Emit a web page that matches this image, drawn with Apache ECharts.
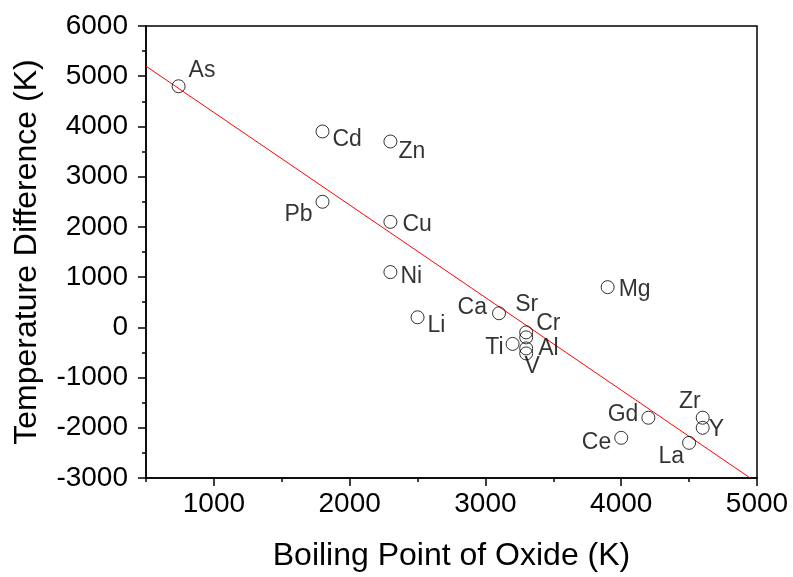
<!DOCTYPE html>
<html>
<head>
<meta charset="utf-8">
<script src="https://cdn.jsdelivr.net/npm/echarts@6/dist/echarts.min.js"></script>
<style>
  html, body { margin: 0; padding: 0; background: #fff; }
  #chart { width: 793px; height: 577px; }
</style>
</head>
<body>
<div id="chart"></div>
<script>
// ---- data ----
const elements      = ['As', 'Cd', 'Zn', 'Pb', 'Cu', 'Ni', 'Li', 'Ca', 'Sr', 'Cr', 'Ti', 'Al', 'V', 'Mg', 'Gd', 'Ce', 'La', 'Zr', 'Y'];
const boilingPoints = [740, 1800, 2300, 1800, 2300, 2300, 2500, 3100, 3300, 3300, 3200, 3300, 3300, 3900, 4200, 4000, 4500, 4600, 4600];
const tempDiffs     = [4800, 3900, 3700, 2500, 2100, 1100, 200, 280, -100, -200, -330, -420, -520, 800, -1800, -2200, -2300, -1800, -2000];
const fitX = [500, 4950];
const fitY = [5200, -3000];
const xMajorTicks = [1000, 2000, 3000, 4000, 5000];
const xMinorTicks = [500, 1500, 2500, 3500, 4500];
const xTitle = 'Boiling Point of Oxide (K)';
const yTitle = 'Temperature Difference (K)';

// ---- label placement (style only): [align, dx, dy] relative to the marker centre ----
const labelPlacement = {
  As: ['left', 10, -16], Cd: ['left', 10, 8], Zn: ['left', 8, 10], Pb: ['right', -10, 13],
  Cu: ['left', 12, 3], Ni: ['left', 10, 5], Li: ['left', 10, 8], Ca: ['right', -12, -6],
  Sr: ['left', -11, -28], Cr: ['left', 10, -14], Ti: ['right', -9, 4], Al: ['left', 12, 0],
  V: ['center', 6, 13], Mg: ['left', 11, 3], Gd: ['right', -10, -3], Ce: ['right', -10, 5],
  La: ['right', -5, 14], Zr: ['right', -2, -16], Y: ['left', 6, 2]
};

const FONT = 'Liberation Sans';
const plain = v => String(v);
const scatterData = elements.map((name, i) => {
  const p = labelPlacement[name];
  return {
    name: name,
    value: [boilingPoints[i], tempDiffs[i]],
    label: { align: p[0], offset: [p[1], p[2]] }
  };
});
const fitData = fitX.map((x, i) => [x, fitY[i]]);

const chart = echarts.init(document.getElementById('chart'), null, { renderer: 'canvas' });
chart.setOption({
  animation: false,
  backgroundColor: '#ffffff',
  grid: { left: 146, right: 36, top: 26, bottom: 97, show: true, borderColor: '#000', borderWidth: 1.5, backgroundColor: 'transparent' },
  xAxis: [
    {
      type: 'value', min: 500, max: 5000,
      name: xTitle, nameLocation: 'middle', nameGap: 62,
      nameTextStyle: { fontFamily: FONT, fontSize: 32, color: '#000' },
      axisLine: { show: true, onZero: false, lineStyle: { color: '#000', width: 1.5 } },
      axisTick: { show: true, inside: false, length: 8, customValues: xMajorTicks, lineStyle: { color: '#000', width: 1.5 } },
      axisLabel: { show: true, customValues: xMajorTicks, formatter: plain, margin: 12, fontFamily: FONT, fontSize: 28, color: '#000' },
      splitLine: { show: false }
    },
    {
      type: 'value', min: 500, max: 5000, position: 'bottom',
      axisLine: { show: false, onZero: false },
      axisTick: { show: true, inside: false, length: 4, customValues: xMinorTicks, lineStyle: { color: '#000', width: 1.5 } },
      axisLabel: { show: false },
      splitLine: { show: false }
    }
  ],
  yAxis: {
    type: 'value', min: -3000, max: 6000, interval: 1000,
    name: yTitle, nameLocation: 'middle', nameGap: 103, nameRotate: 90,
    nameTextStyle: { fontFamily: FONT, fontSize: 32, color: '#000' },
    axisLine: { show: true, onZero: false, lineStyle: { color: '#000', width: 1.5 } },
    axisTick: { show: true, inside: false, length: 8, lineStyle: { color: '#000', width: 1.5 } },
    minorTick: { show: true, splitNumber: 2, length: 4, lineStyle: { color: '#000', width: 1.5 } },
    axisLabel: { margin: 18, formatter: plain, fontFamily: FONT, fontSize: 28, color: '#000' },
    splitLine: { show: false },
    minorSplitLine: { show: false }
  },
  series: [
    {
      type: 'line', xAxisIndex: 0, data: fitData,
      showSymbol: false, symbol: 'none', clip: true,
      lineStyle: { color: '#ff0000', width: 1 },
      z: 2
    },
    {
      type: 'scatter', xAxisIndex: 0, data: scatterData,
      symbol: 'circle', symbolSize: 13,
      itemStyle: { color: 'rgba(255,255,255,0)', borderColor: '#000', borderWidth: 1 },
      label: {
        show: true, position: 'inside', verticalAlign: 'middle',
        formatter: '{b}', fontFamily: FONT, fontSize: 23, color: '#000'
      },
      emphasis: { disabled: true },
      z: 3
    }
  ]
});
</script>
</body>
</html>
